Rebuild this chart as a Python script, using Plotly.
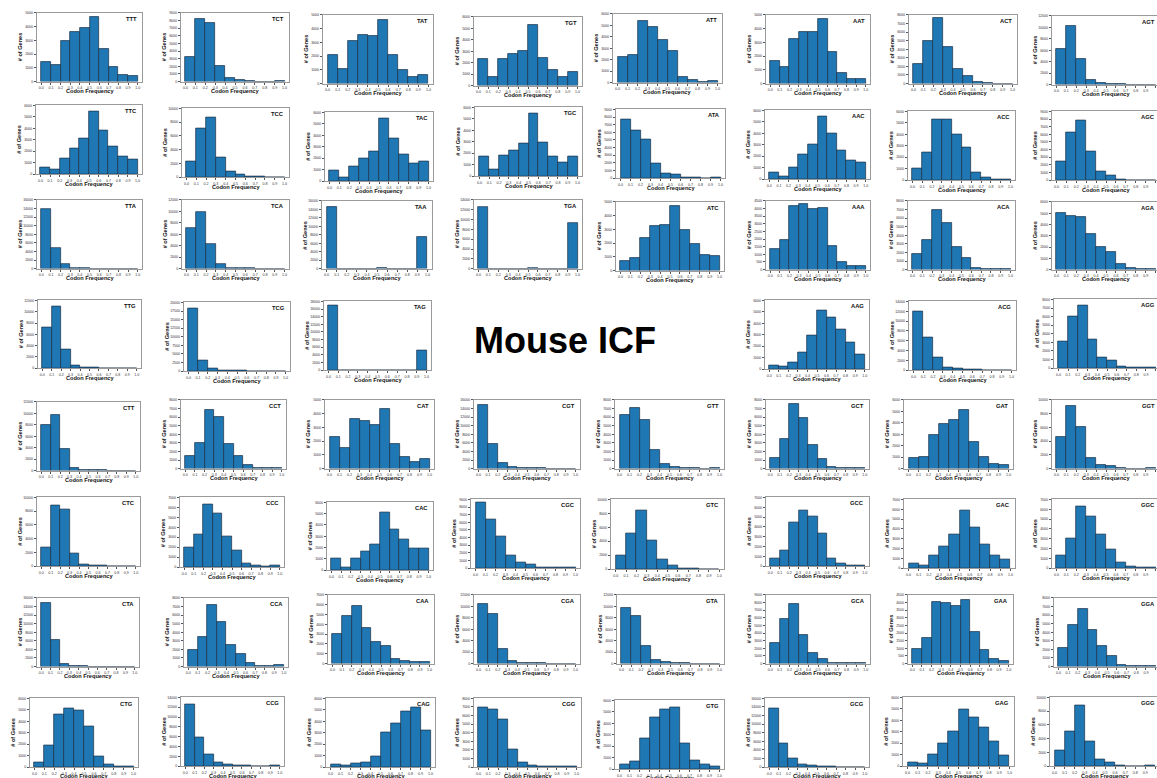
import plotly.graph_objects as go

# ---------------- data ----------------
BIN_CENTERS = [0.05, 0.15, 0.25, 0.35, 0.45, 0.55, 0.65, 0.75, 0.85, 0.95]
X_TICK_VALUES = [0.0, 0.1, 0.2, 0.3, 0.4, 0.5, 0.6, 0.7, 0.8, 0.9, 1.0]
X_TICK_LABELS = ["0.0", "0.1", "0.2", "0.3", "0.4", "0.5", "0.6", "0.7", "0.8", "0.9", "1.0"]

TTT = [1400, 1200, 2950, 3600, 3900, 4700, 2350, 1050, 500, 380]
TCT = [3260, 8260, 7700, 2090, 520, 220, 90, 15, 10, 60]
TAT = [2090, 1100, 3100, 3550, 3480, 4650, 2090, 990, 490, 660]
TGT = [2330, 757, 2300, 2770, 3060, 5270, 2390, 1370, 757, 1190]
ATT = [2210, 2420, 5360, 4860, 3760, 2740, 495, 200, 90, 150]
AAT = [1660, 1195, 3220, 3760, 3760, 4730, 2270, 780, 320, 320]
ACT = [2260, 4960, 7650, 4250, 1720, 860, 195, 30, 15, 15]
AGT = [6150, 10240, 4570, 760, 290, 120, 40, 15, 10, 10]

TTC = [610, 405, 1360, 2260, 3130, 5480, 3830, 2410, 1540, 1280]
TCC = [2280, 7090, 8690, 2860, 825, 340, 80, 60, 10, 10]
TAC = [956, 290, 1246, 1940, 2580, 5450, 3770, 2290, 1565, 1710]
TGC = [1720, 553, 1777, 2240, 2825, 5475, 2910, 1690, 1165, 1720]
ATA = [7700, 6260, 5040, 1870, 650, 520, 90, 80, 10, 80]
AAC = [550, 232, 1040, 2145, 2985, 5510, 4030, 2490, 1620, 1450]
ACC = [980, 2450, 5340, 5340, 3950, 2860, 690, 200, 90, 90]
AGC = [2435, 6260, 7870, 3740, 1170, 565, 40, 10, 5, 5]

TTA = [14000, 4800, 1000, 150, 40, 20, 10, 5, 5, 5]
TCA = [7070, 9910, 4290, 750, 200, 150, 30, 5, 5, 5]
TAA = [14590, 0, 0, 0, 0, 50, 0, 0, 0, 7450]
TGA = [12650, 0, 0, 0, 0, 100, 0, 0, 0, 9400]
ATC = [725, 895, 2390, 3240, 3330, 4710, 2995, 1955, 1135, 1060]
AAA = [1330, 1956, 4174, 4283, 3956, 4022, 1543, 480, 218, 218]
ACA = [1825, 3456, 6950, 5437, 2680, 1360, 200, 60, 40, 40]
AGA = [5030, 4735, 4650, 3176, 2000, 1590, 500, 176, 100, 100]

TTG = [7280, 11010, 3380, 410, 175, 50, 10, 5, 5, 5]
TCG = [18260, 3090, 676, 190, 100, 80, 20, 5, 5, 5]
TAG = [16870, 0, 0, 0, 0, 0, 0, 0, 0, 5220]
AAG = [320, 204, 582, 1456, 2940, 5126, 4515, 3495, 2330, 1280]
ACG = [11890, 6660, 2580, 610, 340, 200, 100, 20, 5, 5]
AGG = [3146, 6020, 7300, 3300, 1243, 893, 195, 80, 30, 30]

CTT = [7960, 9775, 3746, 527, 175, 117, 80, 10, 10, 10]
CCT = [1437, 2950, 6870, 6020, 2910, 1437, 390, 117, 80, 117]
CAT = [2305, 1505, 3616, 3447, 3155, 4320, 1796, 825, 510, 704]
CGT = [14835, 5825, 1320, 390, 155, 155, 50, 10, 10, 10]
GTT = [6220, 7070, 5640, 2200, 580, 232, 77, 20, 10, 77]
GCT = [1240, 3456, 7570, 5864, 2718, 1165, 233, 80, 80, 80]
GAT = [961, 990, 2970, 3930, 4223, 5155, 2360, 1020, 437, 320]
GGT = [4610, 9126, 6020, 1553, 485, 340, 100, 20, 20, 100]

CTC = [2660, 8800, 8217, 1790, 290, 100, 50, 20, 10, 10]
CCC = [1980, 3250, 6270, 5360, 3050, 1650, 370, 170, 50, 130]
CAC = [1030, 240, 1030, 1676, 2294, 5118, 3617, 2735, 1941, 1912]
CGC = [8570, 6350, 4130, 1650, 740, 480, 130, 100, 50, 50]
GTC = [1914, 5100, 8486, 4100, 1343, 530, 140, 30, 20, 20]
GCC = [780, 1620, 4430, 5710, 5040, 3316, 780, 270, 70, 70]
GAC = [520, 320, 1290, 2235, 3475, 5860, 4150, 2400, 1290, 890]
GGC = [1280, 2990, 6240, 5310, 3390, 1940, 530, 170, 70, 70]

CTA = [14920, 6300, 690, 230, 50, 10, 10, 10, 10, 10]
CCA = [1923, 3460, 7150, 5150, 2500, 1423, 385, 115, 40, 190]
CAA = [3040, 4815, 5907, 3585, 2185, 1810, 444, 240, 137, 137]
CGA = [10420, 8660, 2517, 410, 175, 117, 30, 10, 10, 10]
GTA = [9730, 8270, 3090, 700, 290, 175, 117, 20, 10, 10]
GCA = [2665, 5855, 7820, 3757, 1400, 655, 130, 130, 20, 130]
GAA = [983, 1704, 4063, 3998, 3800, 4172, 2053, 874, 284, 197]
GGA = [2203, 4830, 6725, 4250, 2396, 1275, 193, 77, 30, 30]

CTG = [406, 1884, 4637, 5160, 4985, 3594, 956, 232, 87, 87]
CCG = [12650, 5880, 2367, 744, 338, 200, 135, 30, 20, 135]
CAG = [230, 115, 290, 404, 923, 3030, 3780, 4846, 5250, 3173]
CGG = [6960, 6690, 5577, 2000, 577, 230, 77, 20, 20, 77]
GTG = [435, 696, 2696, 4493, 5246, 5420, 2203, 754, 377, 203]
GCG = [13615, 5460, 2077, 615, 308, 154, 50, 10, 10, 10]
GAG = [319, 232, 1043, 1971, 3043, 4928, 4260, 3362, 2116, 898]
GGG = [2270, 5024, 8840, 3575, 966, 483, 97, 20, 20, 97]

COUNTS = {
    "TTT": TTT, "TCT": TCT, "TAT": TAT, "TGT": TGT, "ATT": ATT, "AAT": AAT, "ACT": ACT, "AGT": AGT,
    "TTC": TTC, "TCC": TCC, "TAC": TAC, "TGC": TGC, "ATA": ATA, "AAC": AAC, "ACC": ACC, "AGC": AGC,
    "TTA": TTA, "TCA": TCA, "TAA": TAA, "TGA": TGA, "ATC": ATC, "AAA": AAA, "ACA": ACA, "AGA": AGA,
    "TTG": TTG, "TCG": TCG, "TAG": TAG, "AAG": AAG, "ACG": ACG, "AGG": AGG,
    "CTT": CTT, "CCT": CCT, "CAT": CAT, "CGT": CGT, "GTT": GTT, "GCT": GCT, "GAT": GAT, "GGT": GGT,
    "CTC": CTC, "CCC": CCC, "CAC": CAC, "CGC": CGC, "GTC": GTC, "GCC": GCC, "GAC": GAC, "GGC": GGC,
    "CTA": CTA, "CCA": CCA, "CAA": CAA, "CGA": CGA, "GTA": GTA, "GCA": GCA, "GAA": GAA, "GGA": GGA,
    "CTG": CTG, "CCG": CCG, "CAG": CAG, "CGG": CGG, "GTG": GTG, "GCG": GCG, "GAG": GAG, "GGG": GGG,
}

# y-axis tick top and step per panel
Y_TICK_TOP = {
    "TTT": 5000, "TCT": 9000, "TAT": 5000, "TGT": 6000, "ATT": 6000, "AAT": 5000, "ACT": 8000, "AGT": 12000,
    "TTC": 6000, "TCC": 10000, "TAC": 6000, "TGC": 6000, "ATA": 9000, "AAC": 6000, "ACC": 6000, "AGC": 9000,
    "TTA": 16000, "TCA": 12000, "TAA": 16000, "TGA": 14000, "ATC": 5000, "AAA": 4500, "ACA": 8000, "AGA": 6000,
    "TTG": 12000, "TCG": 20000, "TAG": 18000, "AAG": 6000, "ACG": 14000, "AGG": 8000,
    "CTT": 12000, "CCT": 8000, "CAT": 5000, "CGT": 16000, "GTT": 8000, "GCT": 8000, "GAT": 6000, "GGT": 10000,
    "CTC": 10000, "CCC": 7000, "CAC": 6000, "CGC": 9000, "GTC": 10000, "GCC": 7000, "GAC": 7000, "GGC": 7000,
    "CTA": 16000, "CCA": 8000, "CAA": 7000, "CGA": 12000, "GTA": 12000, "GCA": 9000, "GAA": 4500, "GGA": 8000,
    "CTG": 6000, "CCG": 14000, "CAG": 6000, "CGG": 8000, "GTG": 6000, "GCG": 16000, "GAG": 6000, "GGG": 10000,
}
Y_TICK_STEP = {
    "AGT": 2000, "TCC": 2000, "TTA": 2000, "TCA": 2000, "TAA": 2000, "TGA": 2000, "AAA": 500,
    "TTG": 2000, "TCG": 2500, "TAG": 2000, "ACG": 2000, "CTT": 2000, "CGT": 2000, "GGT": 2000,
    "CTC": 2000, "GTC": 2000, "CTA": 2000, "CGA": 2000, "GTA": 2000, "GAA": 500,
    "CCG": 2000, "GCG": 2000, "GGG": 2000,
}

TITLE_TEXT = "Mouse ICF"
X_TITLE = "Codon Frequency"
Y_TITLE = "# of Genes"

# ---------------- layout (pixel boxes of each plot area: left, top, right, bottom) ----------------
W, H = 1157, 778
BOX = {
    "TTT": (37, 11, 142, 80), "TCT": (181, 11, 289, 80), "TAT": (323, 13, 433, 82), "TGT": (474, 15, 582, 84),
    "ATT": (613, 12, 722, 81), "AAT": (766, 13, 870, 82), "ACT": (909, 13, 1017, 82), "AGT": (1052, 14, 1160, 83),
    "TTC": (36, 104, 142, 173), "TCC": (182, 107, 289, 176), "TAC": (325, 111, 433, 180), "TGC": (475, 106, 582, 175),
    "ATA": (616, 108, 725, 177), "AAC": (765, 109, 870, 178), "ACC": (908, 110, 1015, 179), "AGC": (1052, 110, 1160, 179),
    "TTA": (37, 199, 142, 268), "TCA": (182, 199, 289, 268), "TAA": (322, 200, 432, 268), "TGA": (474, 199, 582, 268),
    "ATC": (616, 201, 724, 270), "AAA": (766, 200, 870, 269), "ACA": (908, 200, 1015, 269), "AGA": (1052, 201, 1160, 269),
    "TTG": (38, 300, 141, 368), "TCG": (184, 302, 290, 371), "TAG": (324, 301, 431, 370),
    "AAG": (765, 300, 869, 369), "ACG": (909, 301, 1016, 370), "AGG": (1054, 299, 1160, 368),
    "CTT": (37, 402, 140, 471), "CCT": (181, 400, 286, 469), "CAT": (325, 400, 434, 469), "CGT": (474, 400, 580, 469),
    "GTT": (615, 400, 724, 469), "GCT": (766, 400, 869, 469), "GAT": (904, 400, 1013, 469), "GGT": (1052, 400, 1160, 469),
    "CTC": (37, 498, 140, 567), "CCC": (180, 498, 284, 568), "CAC": (327, 503, 433, 571), "CGC": (471, 500, 580, 569),
    "GTC": (611, 500, 724, 570), "GCC": (766, 498, 869, 567), "GAC": (904, 500, 1015, 569), "GGC": (1052, 500, 1160, 569),
    "CTA": (37, 599, 139, 668), "CCA": (184, 599, 288, 668), "CAA": (328, 596, 434, 665), "CGA": (474, 596, 580, 665),
    "GTA": (617, 596, 724, 665), "GCA": (766, 596, 870, 665), "GAA": (908, 596, 1013, 665), "GGA": (1054, 599, 1160, 668),
    "CTG": (30, 700, 138, 769), "CCG": (181, 699, 284, 768), "CAG": (326, 700, 435, 769), "CGG": (474, 700, 581, 769),
    "GTG": (615, 702, 724, 771), "GCG": (765, 700, 869, 769), "GAG": (903, 699, 1014, 768), "GGG": (1050, 699, 1160, 768),
}
TITLE_CENTER = (565, 340)

FONT = "Liberation Sans, Arial, sans-serif"
BAR_COLOR = "#1f77b4"
EDGE_COLOR = "#1b2f45"
FRAME_COLOR = "#9a9a9a"
X_RANGE = (-0.045, 1.045)

fig = go.Figure()
layout = {}
annotations = []

for i, codon in enumerate(COUNTS):
    n = i + 1
    sfx = "" if n == 1 else str(n)
    l, t, r, b = BOX[codon]
    rv = min(r, W)
    frac = (rv - l) / (r - l)
    xr = [X_RANGE[0], X_RANGE[0] + (X_RANGE[1] - X_RANGE[0]) * frac]
    top = Y_TICK_TOP[codon]
    step = Y_TICK_STEP.get(codon, 1000)
    fig.add_trace(go.Bar(
        x=BIN_CENTERS, y=COUNTS[codon], width=0.1,
        xaxis="x" + sfx, yaxis="y" + sfx,
        marker=dict(color=BAR_COLOR, line=dict(color=EDGE_COLOR, width=0.7)),
        showlegend=False, hoverinfo="skip",
    ))
    layout["xaxis" + sfx] = dict(
        domain=[l / W, rv / W], anchor="y" + sfx, range=xr,
        tickmode="array", tickvals=X_TICK_VALUES, ticktext=X_TICK_LABELS, tickangle=0,
        ticks="outside", ticklen=2, tickwidth=0.6, tickcolor="#555",
        tickfont=dict(size=3.6, color="#333", family=FONT),
        showline=True, linecolor=FRAME_COLOR, linewidth=1.3, mirror=True,
        showgrid=False, zeroline=False, fixedrange=True,
    )
    layout["yaxis" + sfx] = dict(
        domain=[1 - b / H, 1 - t / H], anchor="x" + sfx, range=[0, top],
        tickmode="array", tickvals=list(range(0, top + 1, step)), tickformat="d",
        ticks="outside", ticklen=2, tickwidth=0.6, tickcolor="#555",
        tickfont=dict(size=3.6, color="#333", family=FONT),
        showline=True, linecolor=FRAME_COLOR, linewidth=1.3, mirror=(r <= W),
        showgrid=False, zeroline=False, fixedrange=True,
    )
    # codon label (top-right inside)
    annotations.append(dict(
        x=(r - 3) / W, y=1 - (t + 1) / H, xref="paper", yref="paper",
        xanchor="right", yanchor="top", showarrow=False,
        text="<b>" + codon + "</b>", font=dict(size=5.8, color="#111", family=FONT),
    ))
    # x title
    annotations.append(dict(
        x=(l + r) / 2 / W, y=1 - (b + 9.5) / H, xref="paper", yref="paper",
        xanchor="center", yanchor="middle", showarrow=False,
        text="<b>" + X_TITLE + "</b>", font=dict(size=5.6, color="#111", family=FONT),
    ))
    # y title
    annotations.append(dict(
        x=(l - 17) / W, y=1 - (t + b) / 2 / H, xref="paper", yref="paper",
        xanchor="center", yanchor="middle", showarrow=False, textangle=-90,
        text="<b>" + Y_TITLE + "</b>", font=dict(size=5.6, color="#111", family=FONT),
    ))

annotations.append(dict(
    x=TITLE_CENTER[0] / W, y=1 - TITLE_CENTER[1] / H, xref="paper", yref="paper",
    xanchor="center", yanchor="middle", showarrow=False,
    text="<b>" + TITLE_TEXT + "</b>", font=dict(size=36, color="#000", family=FONT),
))

fig.update_layout(
    width=W, height=H, margin=dict(l=0, r=0, t=0, b=0),
    paper_bgcolor="white", plot_bgcolor="white",
    bargap=0, showlegend=False, annotations=annotations,
    **layout,
)

fig.write_html("out.html", config={"displayModeBar": False})
